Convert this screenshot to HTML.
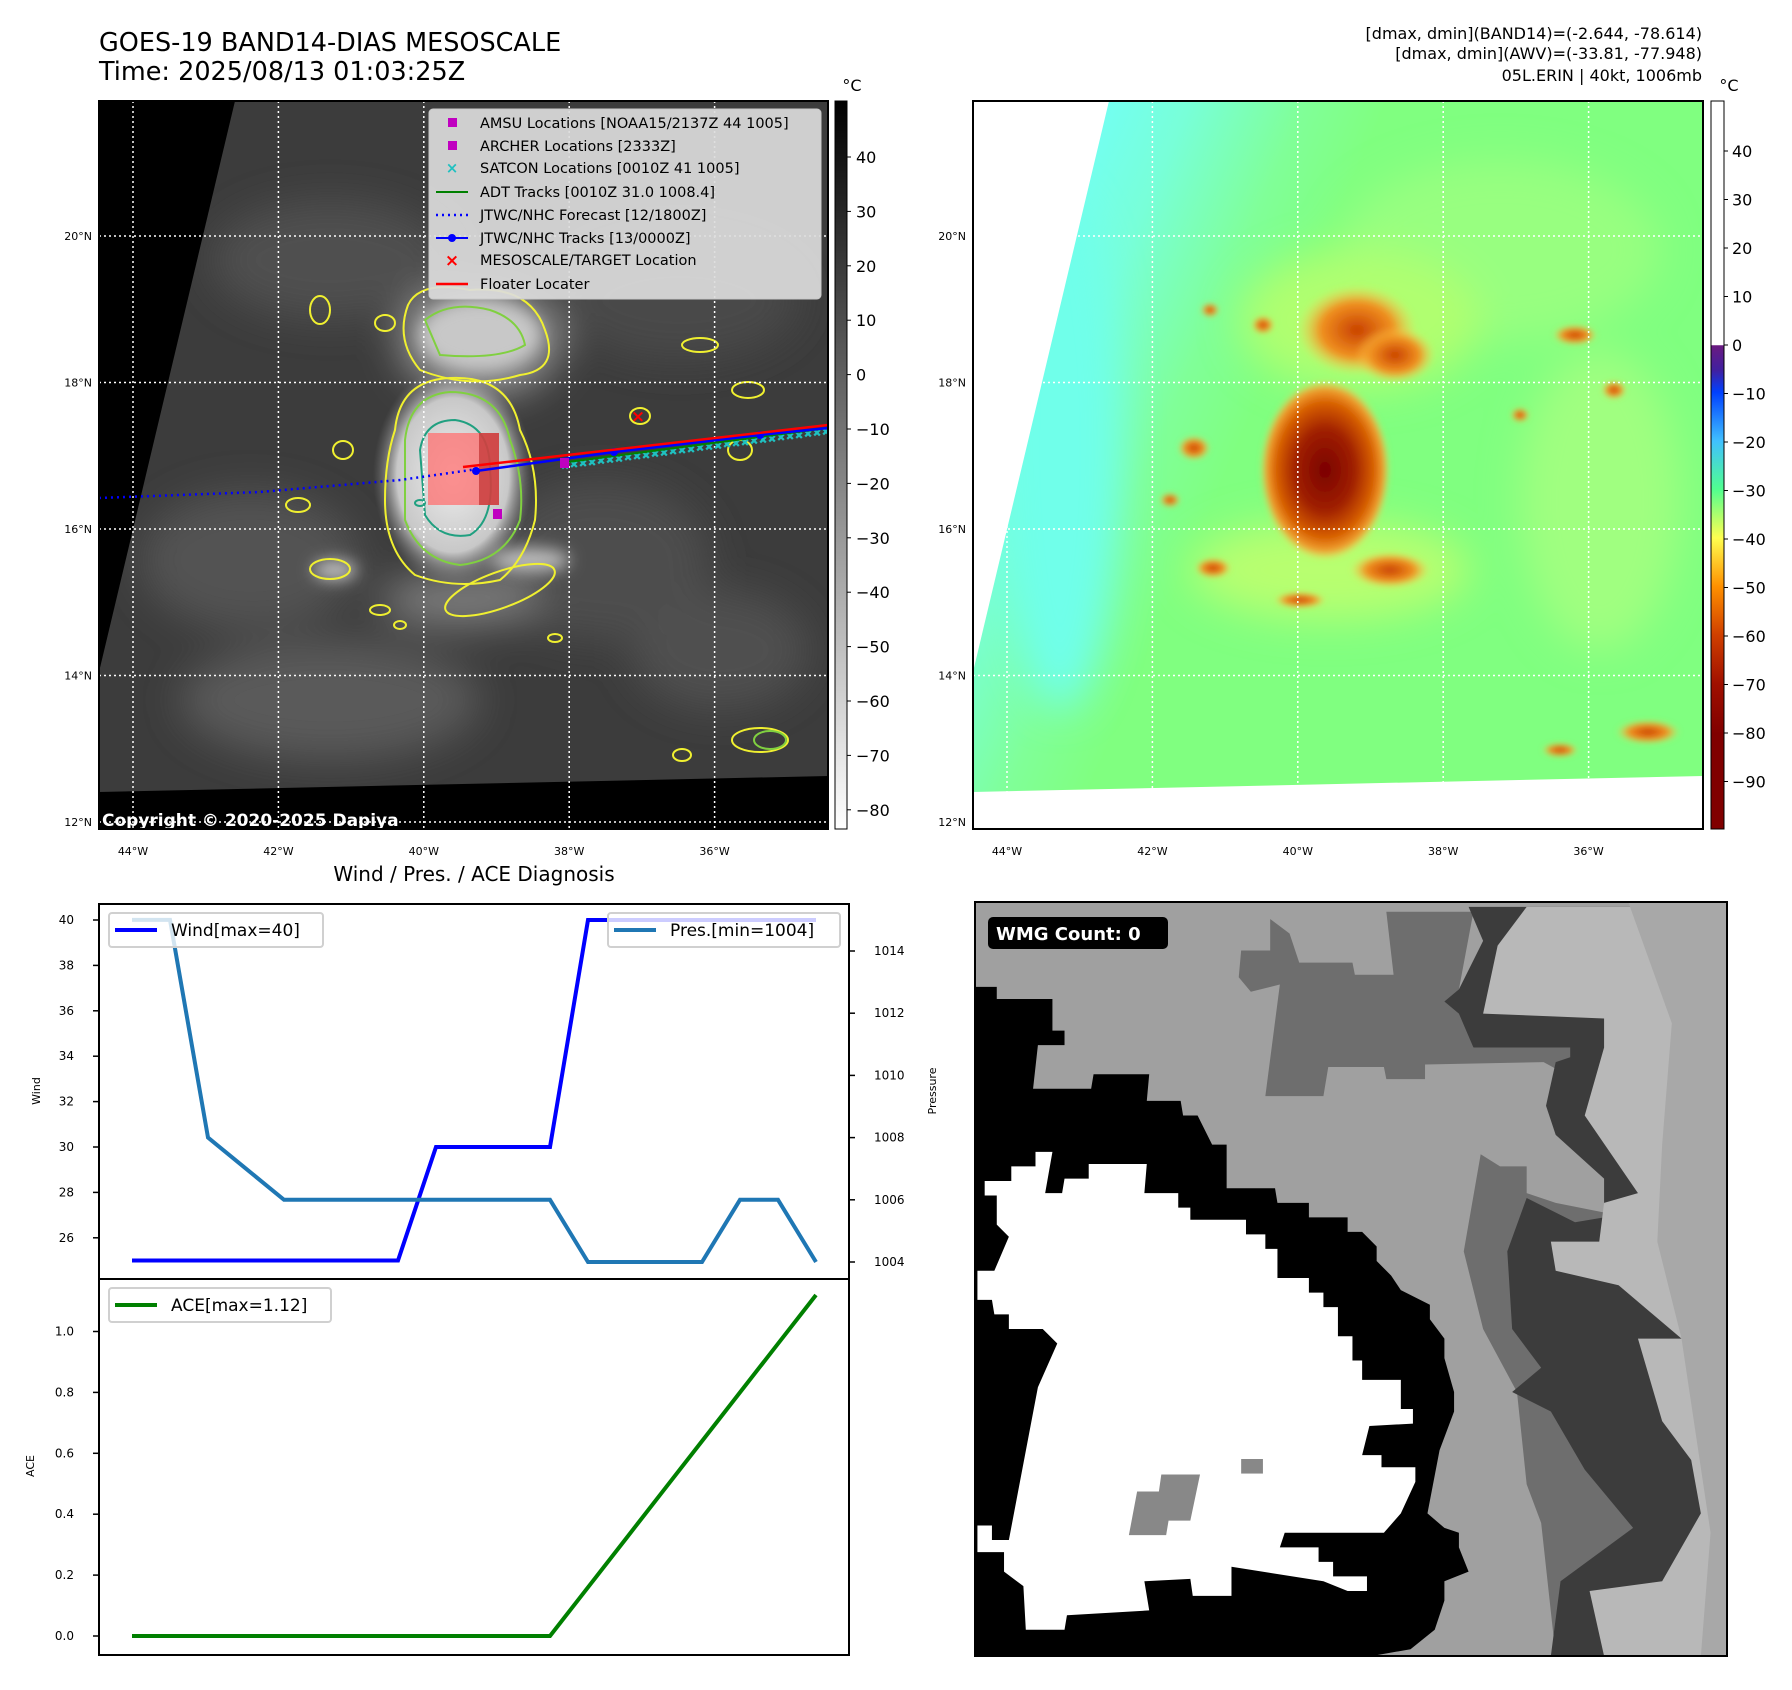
<!DOCTYPE html>
<html><head><meta charset="utf-8"><style>
html,body{margin:0;padding:0;background:#fff;}
svg{display:block;font-family:"DejaVu Sans","Liberation Sans",sans-serif;}
</style></head><body>
<svg id="fig" xmlns="http://www.w3.org/2000/svg" width="1792" height="1690" viewBox="0 0 1792 1690">
<defs>
<filter id="blur8" x="-50%" y="-50%" width="200%" height="200%"><feGaussianBlur stdDeviation="8"/></filter>
<filter id="blur20" x="-50%" y="-50%" width="200%" height="200%"><feGaussianBlur stdDeviation="20"/></filter>
<filter id="blur4" x="-50%" y="-50%" width="200%" height="200%"><feGaussianBlur stdDeviation="3"/></filter>
<clipPath id="clipL"><rect x="99" y="101" width="729" height="728"/></clipPath>
<clipPath id="clipR"><rect x="973" y="101" width="730" height="728"/></clipPath>
<clipPath id="clipB"><rect x="975" y="902" width="752" height="754"/></clipPath>
<linearGradient id="cb1" x1="0" y1="0" x2="0" y2="1"><stop offset="0" stop-color="#000"/><stop offset="1" stop-color="#fff"/></linearGradient>
<linearGradient id="cb2" x1="0" y1="101" x2="0" y2="829" gradientUnits="userSpaceOnUse">
<stop offset="0" stop-color="#fff"/><stop offset="0.335" stop-color="#fff"/>
<stop offset="0.336" stop-color="#6a1a80"/><stop offset="0.37" stop-color="#4020a0"/>
<stop offset="0.4" stop-color="#0040ff"/><stop offset="0.467" stop-color="#40c0ff"/>
<stop offset="0.533" stop-color="#50ff90"/><stop offset="0.6" stop-color="#ffff50"/>
<stop offset="0.667" stop-color="#ff9000"/><stop offset="0.733" stop-color="#d04000"/>
<stop offset="0.8" stop-color="#a01000"/><stop offset="0.87" stop-color="#800000"/><stop offset="1" stop-color="#800000"/></linearGradient>
<radialGradient id="coreR"><stop offset="0" stop-color="#7a0000"/><stop offset="0.45" stop-color="#a02000"/><stop offset="0.75" stop-color="#d86000"/><stop offset="0.9" stop-color="#f0a030"/><stop offset="1" stop-color="#ffd050" stop-opacity="0"/></radialGradient>
<radialGradient id="orgR"><stop offset="0" stop-color="#c84000"/><stop offset="0.6" stop-color="#f09020"/><stop offset="1" stop-color="#ffd050" stop-opacity="0"/></radialGradient>
<radialGradient id="coreL"><stop offset="0" stop-color="#eeeeee"/><stop offset="0.7" stop-color="#c8c8c8"/><stop offset="1" stop-color="#808080" stop-opacity="0"/></radialGradient>
<linearGradient id="cyanG" x1="973" y1="300" x2="1250" y2="420" gradientUnits="userSpaceOnUse"><stop offset="0" stop-color="#70ffff"/><stop offset="0.4" stop-color="#78ffd8"/><stop offset="0.75" stop-color="#80ff98"/><stop offset="1" stop-color="#80ff80"/></linearGradient>
</defs>

<text x="99" y="51" font-size="25.5">GOES-19 BAND14-DIAS MESOSCALE</text>
<text x="99" y="80" font-size="25.5">Time: 2025/08/13 01:03:25Z</text>
<g font-size="16" text-anchor="end">
<text x="1702" y="39">[dmax, dmin](BAND14)=(-2.644, -78.614)</text>
<text x="1702" y="59">[dmax, dmin](AWV)=(-33.81, -77.948)</text>
<text x="1702" y="81">05L.ERIN | 40kt, 1006mb</text>
</g>

<g clip-path="url(#clipL)">
<rect x="99" y="101" width="729" height="728" fill="#3c3c3c"/>
<g filter="url(#blur20)">
<ellipse cx="330" cy="260" rx="120" ry="60" fill="#505050"/>
<ellipse cx="250" cy="560" rx="110" ry="70" fill="#525252"/>
<ellipse cx="330" cy="700" rx="150" ry="60" fill="#5a5a5a"/>
<ellipse cx="600" cy="560" rx="110" ry="80" fill="#4e4e4e"/>
<ellipse cx="680" cy="300" rx="120" ry="60" fill="#484848"/>
<ellipse cx="720" cy="650" rx="90" ry="60" fill="#505050"/>
<ellipse cx="480" cy="340" rx="80" ry="55" fill="#9a9a9a"/>
<ellipse cx="460" cy="600" rx="80" ry="25" fill="#808080"/>
</g>
<ellipse cx="453" cy="475" rx="80" ry="110" fill="url(#coreL)"/>
<g filter="url(#blur8)">
<ellipse cx="480" cy="335" rx="60" ry="35" fill="#c8c8c8"/>
<ellipse cx="530" cy="560" rx="40" ry="12" fill="#bcbcbc"/>
<ellipse cx="335" cy="570" rx="22" ry="10" fill="#c0c0c0"/>
</g>
<g fill="none" stroke="#f0f030" stroke-width="2">
<path d="M395 430 Q400 380 450 378 Q510 375 520 430 Q540 470 535 520 Q525 560 500 580 Q455 590 415 575 Q385 550 385 500 Q385 460 395 430Z"/>
<path d="M408 305 Q420 280 470 290 Q530 285 545 330 Q560 370 520 375 Q470 390 420 370 Q395 340 408 305Z"/>
<ellipse cx="500" cy="590" rx="58" ry="18" transform="rotate(-20 500 590)"/>
<ellipse cx="330" cy="569" rx="20" ry="10"/>
<ellipse cx="320" cy="310" rx="10" ry="14"/>
<ellipse cx="385" cy="323" rx="10" ry="8"/>
<ellipse cx="760" cy="740" rx="28" ry="12"/>
<ellipse cx="700" cy="345" rx="18" ry="7"/>
<ellipse cx="748" cy="390" rx="16" ry="8"/>
<ellipse cx="740" cy="450" rx="12" ry="10"/>
<ellipse cx="640" cy="416" rx="10" ry="8"/>
<ellipse cx="343" cy="450" rx="10" ry="9"/>
<ellipse cx="298" cy="505" rx="12" ry="7"/>
<ellipse cx="555" cy="638" rx="7" ry="4"/>
<ellipse cx="682" cy="755" rx="9" ry="6"/>
<ellipse cx="380" cy="610" rx="10" ry="5"/>
<ellipse cx="400" cy="625" rx="6" ry="4"/>
</g>
<g fill="none" stroke="#80d040" stroke-width="2">
<path d="M405 440 Q410 395 450 392 Q500 392 510 440 Q525 480 520 520 Q505 560 460 565 Q420 560 405 520Z"/>
<path d="M425 320 Q450 300 490 310 Q520 320 525 345 Q500 360 440 355Z"/>
<ellipse cx="770" cy="740" rx="16" ry="9"/>
</g>
<g fill="none" stroke="#20a080" stroke-width="2">
<path d="M420 450 Q425 420 455 420 Q490 425 490 470 Q495 520 470 535 Q440 540 425 515Z"/>
<ellipse cx="420" cy="503" rx="5" ry="3"/>
</g>
<polygon points="99,101 235,101 99,672" fill="#000"/>
<polygon points="99,792 828,776 828,829 99,829" fill="#000"/>
<g id="gridL" stroke="#fff" stroke-width="1.5" stroke-dasharray="2,3" fill="none"></g>
<rect x="428" y="433" width="71" height="72" fill="#ff7070" fill-opacity="0.75"/>
<rect x="479" y="433" width="20" height="72" fill="#c03030" fill-opacity="0.7"/>
<polyline points="99,498 260,492 400,480 478,469" fill="none" stroke="#0000ff" stroke-width="2.5" stroke-dasharray="2,4"/>
<g stroke="#20c0c0" stroke-width="1.5" id="satcon"></g>
<polyline points="560,463 828,428" fill="none" stroke="#008000" stroke-width="2"/>
<polyline points="476,471 614,452 760,435 828,428" fill="none" stroke="#0000ff" stroke-width="2.5"/>
<circle cx="476" cy="471" r="4" fill="#0000ff"/><circle cx="614" cy="452" r="4" fill="#0000ff"/><circle cx="760" cy="435" r="4" fill="#0000ff"/>
<polyline points="463,467 828,425" fill="none" stroke="#ff0000" stroke-width="2.5"/>
<rect x="493" y="509" width="9" height="10" fill="#c000c0"/>
<rect x="560" y="458" width="9" height="10" fill="#c000c0"/>
<text x="638" y="422" font-size="17" fill="#ff0000" font-weight="bold" text-anchor="middle">×</text>
<g>
<rect x="429" y="109" width="392" height="190" rx="4" fill="#dcdcdc" fill-opacity="0.92" stroke="#c8c8c8"/>
<g font-size="14.5" fill="#000">
<rect x="448" y="118" width="9" height="9" fill="#c000c0"/><text x="480" y="128">AMSU Locations [NOAA15/2137Z 44 1005]</text>
<rect x="448" y="141" width="9" height="9" fill="#c000c0"/><text x="480" y="151">ARCHER Locations [2333Z]</text>
<text x="452" y="173" fill="#20c0c0" font-size="15" text-anchor="middle" font-weight="bold">×</text><text x="480" y="173">SATCON Locations [0010Z 41 1005]</text>
<line x1="436" y1="192" x2="468" y2="192" stroke="#008000" stroke-width="2"/><text x="480" y="197">ADT Tracks [0010Z 31.0 1008.4]</text>
<line x1="436" y1="215" x2="468" y2="215" stroke="#0000ff" stroke-width="2.5" stroke-dasharray="2,4"/><text x="480" y="220">JTWC/NHC Forecast [12/1800Z]</text>
<line x1="436" y1="238" x2="468" y2="238" stroke="#0000ff" stroke-width="2"/><circle cx="452" cy="238" r="4" fill="#0000ff"/><text x="480" y="243">JTWC/NHC Tracks [13/0000Z]</text>
<text x="452" y="266" fill="#ff0000" font-size="17" text-anchor="middle" font-weight="bold">×</text><text x="480" y="265">MESOSCALE/TARGET Location</text>
<line x1="436" y1="284" x2="468" y2="284" stroke="#ff0000" stroke-width="2.5"/><text x="480" y="289">Floater Locater</text>
</g></g>
<text x="102" y="826" font-size="17" font-weight="bold" fill="#fff">Copyright © 2020-2025 Dapiya</text>
</g>
<rect x="99" y="101" width="729" height="728" fill="none" stroke="#000" stroke-width="2"/>

<rect x="835" y="101" width="12" height="728" fill="url(#cb1)" stroke="#000" stroke-width="1"/>
<text x="852" y="91" font-size="16" text-anchor="middle">°C</text>
<g id="cb1ticks" font-size="16"></g>

<g clip-path="url(#clipR)">
<rect x="973" y="101" width="730" height="728" fill="url(#cyanG)"/>
<g filter="url(#blur20)">
<ellipse cx="1060" cy="450" rx="60" ry="260" fill="#70ffea"/>
<ellipse cx="1500" cy="250" rx="160" ry="90" fill="#98ff80"/>
<ellipse cx="1600" cy="500" rx="80" ry="150" fill="#a0ff80"/>
<ellipse cx="1330" cy="570" rx="140" ry="50" fill="#b8ff70"/>
<ellipse cx="1360" cy="320" rx="120" ry="70" fill="#b0ff70"/>
</g>
<g filter="url(#blur4)">
<ellipse cx="1357" cy="330" rx="60" ry="45" fill="url(#orgR)"/>
<ellipse cx="1395" cy="355" rx="40" ry="28" fill="url(#orgR)"/>
<ellipse cx="1325" cy="470" rx="65" ry="90" fill="url(#coreR)"/>
<ellipse cx="1390" cy="570" rx="40" ry="18" fill="url(#orgR)"/>
<ellipse cx="1213" cy="568" rx="18" ry="10" fill="url(#orgR)"/>
<ellipse cx="1194" cy="448" rx="16" ry="12" fill="url(#orgR)"/>
<ellipse cx="1648" cy="732" rx="32" ry="12" fill="url(#orgR)"/>
<ellipse cx="1575" cy="335" rx="22" ry="10" fill="url(#orgR)"/>
<ellipse cx="1614" cy="390" rx="12" ry="9" fill="url(#orgR)"/>
<ellipse cx="1263" cy="325" rx="11" ry="9" fill="url(#orgR)"/>
<ellipse cx="1210" cy="310" rx="9" ry="7" fill="url(#orgR)"/>
<ellipse cx="1170" cy="500" rx="10" ry="7" fill="url(#orgR)"/>
<ellipse cx="1300" cy="600" rx="26" ry="8" fill="url(#orgR)"/>
<ellipse cx="1520" cy="415" rx="9" ry="7" fill="url(#orgR)"/>
<ellipse cx="1560" cy="750" rx="18" ry="7" fill="url(#orgR)"/>
</g>
<polygon points="973,101 1109,101 973,672" fill="#fff"/>
<polygon points="973,792 1703,776 1703,829 973,829" fill="#fff"/>
<g id="gridR" stroke="#fff" stroke-width="1.5" stroke-dasharray="2,3" fill="none"></g>
</g>
<rect x="973" y="101" width="730" height="728" fill="none" stroke="#000" stroke-width="2"/>
<rect x="1711" y="101" width="13" height="728" fill="url(#cb2)" stroke="#000" stroke-width="1"/>
<text x="1729" y="91" font-size="16" text-anchor="middle">°C</text>
<g id="cb2ticks" font-size="16"></g>

<g id="geoLabels" font-size="11"></g>

<text x="474" y="881" font-size="20" text-anchor="middle">Wind / Pres. / ACE Diagnosis</text>
<g id="chart"></g>

<g clip-path="url(#clipB)">
<svg x="975" y="902" width="752" height="754" viewBox="0 0 1554 1554" preserveAspectRatio="none">
<rect width="1554" height="1554" fill="#a0a0a0"/>
<polygon fill="#6e6e6e" points="550,100 610,100 610,35 650,65 670,125 780,125 785,150 865,150 850,20 1030,20 1000,180 1030,300 1285,235 1230,360 1175,330 930,335 930,365 850,365 845,340 730,340 720,400 600,400 630,170 570,185 545,155"/>
<polygon fill="#6e6e6e" points="1045,520 1085,545 1140,545 1140,600 1200,620 1300,640 1554,640 1554,1554 1200,1554 1170,1280 1140,1200 1120,1010 1050,880 1010,720"/>
<polygon fill="#3c3c3c" points="1020,10 1554,10 1554,1554 1190,1554 1210,1400 1360,1290 1260,1170 1190,1050 1110,1010 1170,960 1110,880 1100,720 1140,610 1240,660 1300,650 1300,570 1200,480 1180,420 1200,330 1230,320 1230,300 1030,300 1000,230 970,205 1000,180 1050,80"/>
<polygon fill="#b8b8b8" points="1140,10 1554,10 1554,1554 1300,1554 1270,1420 1420,1400 1500,1260 1480,1150 1420,1070 1370,900 1460,900 1330,790 1200,760 1190,700 1290,700 1300,620 1370,600 1260,440 1300,300 1300,240 1050,230 1080,90"/>
<polygon fill="#a8a8a8" points="1350,0 1554,0 1554,1554 1500,1554 1520,1300 1490,1100 1460,900 1410,700 1420,500 1440,250"/>
<polygon fill="#000" points="0,175 45,175 45,200 160,200 160,265 185,265 185,295 130,295 120,385 240,385 245,355 360,355 355,410 425,410 430,440 460,440 490,500 520,500 520,590 620,590 625,620 690,620 690,650 770,650 770,680 800,680 830,710 830,740 860,770 880,800 940,830 940,860 970,900 970,940 990,1010 990,1050 960,1130 935,1260 970,1290 1000,1300 1000,1330 1020,1380 970,1400 970,1440 950,1500 900,1540 820,1554 0,1554"/>
<polygon fill="#fff" points="125,515 160,515 145,600 180,600 185,570 235,570 235,540 355,540 350,600 420,600 420,630 445,630 445,655 560,655 560,685 600,685 600,715 625,715 625,775 690,775 690,805 720,805 720,835 750,835 750,895 780,895 780,945 800,945 800,985 880,985 880,1045 905,1045 905,1075 815,1080 800,1140 840,1140 840,1165 910,1165 910,1195 880,1260 845,1300 640,1300 630,1330 710,1330 710,1360 740,1360 740,1390 810,1390 810,1420 770,1420 720,1400 530,1370 530,1430 450,1430 445,1395 350,1400 360,1460 190,1470 185,1500 105,1500 100,1410 60,1380 60,1340 5,1340 5,1285 35,1285 35,1315 70,1315 130,1000 170,910 140,880 70,880 70,850 40,850 35,820 5,820 5,760 40,760 70,690 45,665 45,605 20,605 20,575 75,575 75,545 125,545"/>
<polygon fill="#888" points="385,1180 465,1180 445,1275 400,1275 395,1305 318,1305 335,1215 380,1215"/>
<rect x="550" y="1148" width="45" height="30" fill="#888"/>
</svg>
</g>
<rect x="975" y="902" width="752" height="754" fill="none" stroke="#000" stroke-width="2"/>
<rect x="988" y="917" width="180" height="32" rx="5" fill="#000"/>
<text x="996" y="940" font-size="18" font-weight="bold" fill="#fff">WMG Count: 0</text>
</svg>

<script>
const steps = [0,1,2,3,4,5,6,7,8,9,10,11,12,13,14,15,16,17,18];
const windValues = [25,25,25,25,25,25,25,25,30,30,30,30,40,40,40,40,40,40,40];
const presValues = [1015,1015,1008,1007,1006,1006,1006,1006,1006,1006,1006,1006,1004,1004,1004,1004,1006,1006,1004];
const aceValues = [0,0,0,0,0,0,0,0,0,0,0,0,0.16,0.32,0.48,0.64,0.80,0.96,1.12];
const windTicks = [26,28,30,32,34,36,38,40];
const presTicks = [1004,1006,1008,1010,1012,1014];
const aceTicks = [0.0,0.2,0.4,0.6,0.8,1.0];
const cb1Ticks = [40,30,20,10,0,-10,-20,-30,-40,-50,-60,-70,-80];
const cb2Ticks = [40,30,20,10,0,-10,-20,-30,-40,-50,-60,-70,-80,-90];
const lonLabels = ['44°W','42°W','40°W','38°W','36°W'];
const latLabels = ['20°N','18°N','16°N','14°N','12°N'];

const NS='http://www.w3.org/2000/svg';
function mk(tag, attrs, parent, txt){const e=document.createElementNS(NS,tag);for(const k in attrs)e.setAttribute(k,attrs[k]);if(txt!==undefined)e.textContent=txt;parent.appendChild(e);return e;}
const fmtNeg = v => (v<0?'\u2212'+Math.abs(v):String(v));

const xIdx = i => 132 + i*(816-132)/18;
const yWind = w => 920 + (40-w)*22.7;
const yPres = p => 1262 - (p-1004)*31.1;
const yAce = a => 1636 - a*304.5;
const yCb1 = v => 157 + (40-v)*5.44;
const yCb2 = v => 345 - v*4.85;
const xLon = k => 133 + k*145.4;
const yLat = k => 236 + k*146.5;

['gridL','gridR'].forEach((id,m)=>{
  const g=document.getElementById(id); const off=m*874;
  lonLabels.forEach((l,k)=>{const ln=mk('line',{x1:xLon(k)+off,y1:101,x2:xLon(k)+off,y2:829},g);
    
    });
  latLabels.forEach((l,k)=>{const ln=mk('line',{x1:99+off,y1:yLat(k),x2:829+off,y2:yLat(k)},g);
    
    });
});
const geo=document.getElementById('geoLabels');
[0,874].forEach(off=>{
  lonLabels.forEach((l,k)=>{const t=mk('text',{x:xLon(k)+off,y:855,'text-anchor':'middle'},geo,l);
    
    });
  latLabels.forEach((l,k)=>{const t=mk('text',{x:92+off,y:yLat(k)+4,'text-anchor':'end'},geo,l);
    
    });
});
const sat=document.getElementById('satcon');
for(let x=565;x<=828;x+=9){const y=463-(x-560)*(35/268)+(x%18?2:0);
  const t=mk('text',{x:x,y:y+4,'font-size':'9','text-anchor':'middle',fill:'#20c0c0'},sat,'×');
  
  }

const c1=document.getElementById('cb1ticks');
cb1Ticks.forEach(v=>{const y=yCb1(v);mk('line',{x1:847,y1:y,x2:851,y2:y,stroke:'#000'},c1);
  const t=mk('text',{x:856,y:y+6},c1,fmtNeg(v));
  
  });
const c2=document.getElementById('cb2ticks');
cb2Ticks.forEach(v=>{const y=yCb2(v);mk('line',{x1:1724,y1:y,x2:1728,y2:y,stroke:'#000'},c2);
  const t=mk('text',{x:1732,y:y+6},c2,fmtNeg(v));
  
  });

const ch=document.getElementById('chart');
windTicks.forEach(v=>{const y=yWind(v);mk('line',{x1:93,y1:y,x2:99,y2:y,stroke:'#000','stroke-width':1.5},ch);
  const t=mk('text',{x:74,y:y+4,'font-size':'12','text-anchor':'end'},ch,String(v));
  
  });
presTicks.forEach(v=>{const y=yPres(v);mk('line',{x1:849,y1:y,x2:855,y2:y,stroke:'#000','stroke-width':1.5},ch);
  const t=mk('text',{x:874,y:y+4,'font-size':'12'},ch,String(v));
  
  });
aceTicks.forEach(v=>{const y=yAce(v);mk('line',{x1:93,y1:y,x2:99,y2:y,stroke:'#000','stroke-width':1.5},ch);
  const t=mk('text',{x:74,y:y+4,'font-size':'12','text-anchor':'end'},ch,v.toFixed(1));
  
  });
function line(vals,yf,color,name){const pts=vals.map((v,i)=>xIdx(steps[i]).toFixed(1)+','+yf(v).toFixed(1)).join(' ');
  const p=mk('polyline',{points:pts,fill:'none',stroke:color,'stroke-width':4,'stroke-linejoin':'miter'},ch);
  
  }
line(windValues,yWind,'#0000ff','wind-line');
line(presValues,yPres,'#1f77b4','pressure-line');
line(aceValues,yAce,'#008000','ace-line');
mk('rect',{x:99,y:904,width:750,height:375,fill:'none',stroke:'#000','stroke-width':2},ch);
mk('rect',{x:99,y:1279,width:750,height:376,fill:'none',stroke:'#000','stroke-width':2},ch);
function legend(x,y,w,color,label,name){const g=mk('g',{},ch);
  
  
  mk('rect',{x:x,y:y,width:w,height:34,rx:3,fill:'#fff','fill-opacity':0.8,stroke:'#d0d0d0','stroke-width':2},g);
  mk('line',{x1:x+6,y1:y+17,x2:x+48,y2:y+17,stroke:color,'stroke-width':4},g);
  mk('text',{x:x+62,y:y+23,'font-size':'17'},g,label);}
legend(109,913,214,'#0000ff','Wind[max=40]','wind-legend');
legend(608,913,232,'#1f77b4','Pres.[min=1004]','pressure-legend');
legend(109,1288,222,'#008000','ACE[max=1.12]','ace-legend');
let t=mk('text',{x:0,y:0,'font-size':'11',transform:'translate(40,1091) rotate(-90)','text-anchor':'middle'},ch,'Wind');


t=mk('text',{x:0,y:0,'font-size':'11',transform:'translate(34,1466) rotate(-90)','text-anchor':'middle'},ch,'ACE');


t=mk('text',{x:0,y:0,'font-size':'11',transform:'translate(936,1091) rotate(-90)','text-anchor':'middle'},ch,'Pressure');


</script>
</body></html>
